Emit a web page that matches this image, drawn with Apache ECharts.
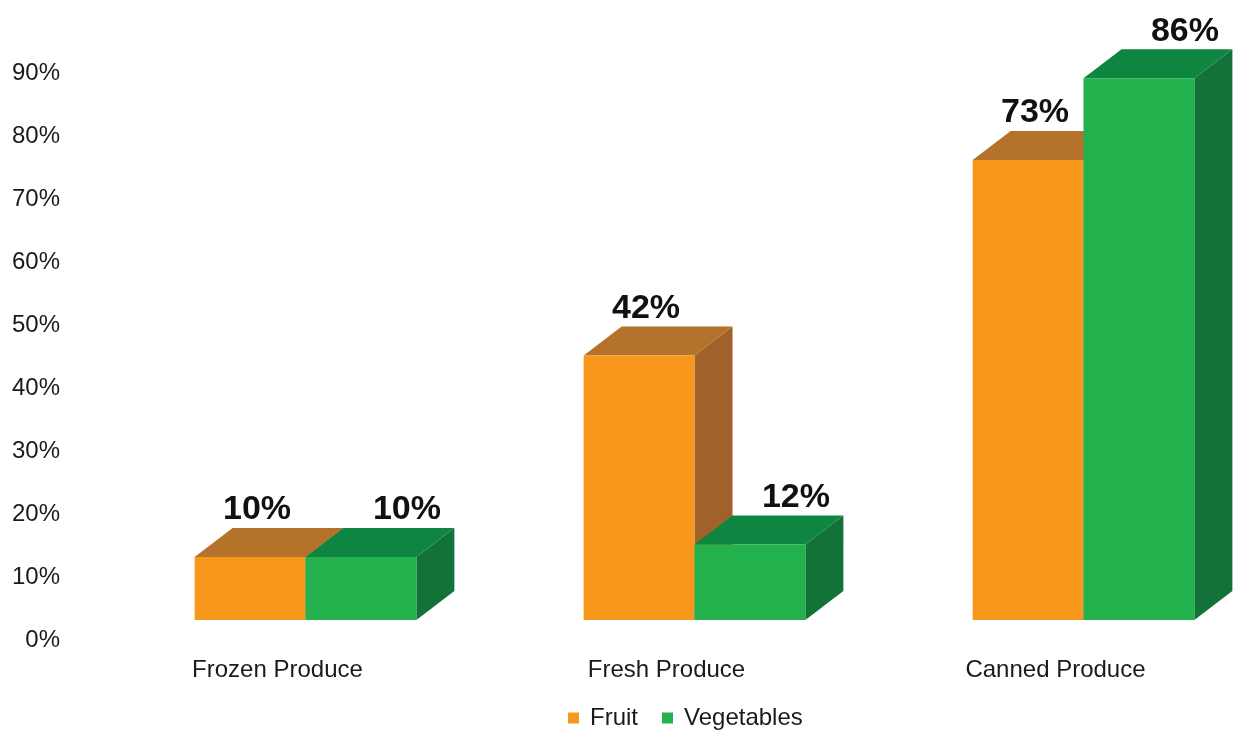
<!DOCTYPE html>
<html>
<head>
<meta charset="utf-8">
<style>
  html, body { margin: 0; padding: 0; background: #fff; }
  #chart { width: 1236px; height: 732px; }
</style>
<script src="https://cdn.jsdelivr.net/npm/echarts@6/dist/echarts.min.js"></script>
</head>
<body>
<div id="chart"></div>
<script>
// Share of shoppers by produce type
const categories = ['Frozen Produce', 'Fresh Produce', 'Canned Produce'];
const fruit = [10, 42, 73];
const vegetables = [10, 12, 86];
const yMin = 0, yMax = 90, yStep = 10;

const FONT = '"Liberation Sans", Arial, sans-serif';

// face colours: front, top, side
const palette = {
  fruit: { front: '#F7981D', top: '#B5722B', side: '#A0622A' },
  veg:   { front: '#22B14C', top: '#0E8641', side: '#127238' }
};

// Draws one 3D box per category; side = -1 (left half) or +1 (right half)
function boxRenderer(side, colors, labelShift) {
  return function (params, api) {
    const cat = api.value(0);
    const v = api.value(1);
    const base = api.coord([cat, 0]);
    const top = api.coord([cat, v]);
    const band = api.size([1, 0])[0];
    const w = band * 0.285;
    const shiftX = band * 0.072;
    const lift = 20;          // front face sits slightly above the floor line
    const dx = 38, dy = 29;   // depth projection
    const cx = base[0] + shiftX;
    const x0 = side < 0 ? cx - w : cx;
    const x1 = x0 + w;
    const yb = base[1] - lift;
    const yt = top[1] - lift;
    return {
      type: 'group',
      children: [
        {
          type: 'polygon',
          shape: { points: [[x1, yt], [x1 + dx, yt - dy], [x1 + dx, yb - dy], [x1, yb]] },
          style: { fill: colors.side }
        },
        {
          type: 'polygon',
          shape: { points: [[x0, yt], [x0 + dx, yt - dy], [x1 + dx, yt - dy], [x1, yt]] },
          style: { fill: colors.top }
        },
        {
          type: 'rect',
          shape: { x: x0, y: yt, width: w, height: yb - yt },
          style: { fill: colors.front }
        },
        {
          type: 'text',
          style: {
            text: v + '%',
            x: (x0 + x1) / 2 + labelShift,
            y: yt - dy - 18,
            align: 'center',
            verticalAlign: 'middle',
            font: 'bold 34px ' + FONT,
            fill: '#111'
          }
        }
      ]
    };
  };
}

const chart = echarts.init(document.getElementById('chart'), null, { renderer: 'canvas' });
chart.setOption({
  animation: false,
  backgroundColor: '#fff',
  // category centres sit on the grid edges (boundaryGap: false)
  grid: { left: 277.5, top: 73, bottom: 92, width: 778 },
  legend: {
    data: ['Fruit', 'Vegetables'],
    left: 568,
    top: 706,
    padding: 0,
    icon: 'rect',
    itemWidth: 11,
    itemHeight: 11,
    itemGap: 24,
    textStyle: { fontFamily: FONT, fontSize: 24, color: '#1a1a1a', padding: [0, 0, 0, 6] }
  },
  xAxis: {
    type: 'category',
    data: categories,
    boundaryGap: false,
    axisLine: { show: false },
    axisTick: { show: false },
    axisLabel: { fontFamily: FONT, fontSize: 24, color: '#1a1a1a', margin: 18 }
  },
  yAxis: {
    type: 'value',
    min: yMin,
    max: yMax,
    interval: yStep,
    splitLine: { show: false },
    axisLine: { show: false },
    axisTick: { show: false },
    axisLabel: { formatter: '{value}%', fontFamily: FONT, fontSize: 24, color: '#1a1a1a', margin: 217.5 }
  },
  series: [
    {
      name: 'Fruit',
      type: 'custom',
      itemStyle: { color: palette.fruit.front },
      renderItem: boxRenderer(-1, palette.fruit, 7),
      encode: { x: 0, y: 1 },
      data: fruit.map((v, i) => [i, v])
    },
    {
      name: 'Vegetables',
      type: 'custom',
      itemStyle: { color: palette.veg.front },
      renderItem: boxRenderer(1, palette.veg, 46),
      encode: { x: 0, y: 1 },
      data: vegetables.map((v, i) => [i, v])
    }
  ]
});
</script>
</body>
</html>
